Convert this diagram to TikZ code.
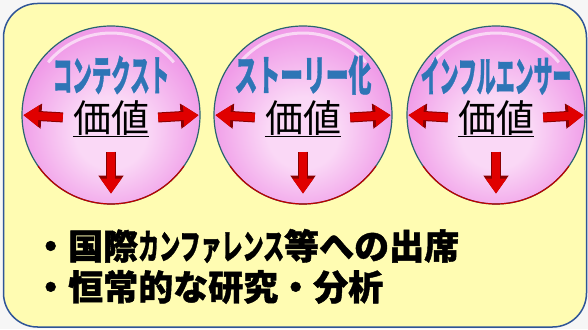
\documentclass[tikz,border=0pt]{standalone}
\usepackage{fontspec}
\usepackage{tikz}
\usetikzlibrary{positioning,arrows.meta}
\newfontfamily\jp{Noto Sans CJK JP}[BoldFeatures={FakeBold=1.2}]
\definecolor{boxyellow}{HTML}{FFFCB2}
\definecolor{boxblue}{HTML}{2F5597}
\definecolor{titleblue}{HTML}{2E75B6}
\definecolor{ballcenter}{HTML}{FAD8F6}
\definecolor{ballmid}{HTML}{F09CE8}
\definecolor{ballrim}{HTML}{C472CC}
\definecolor{ballline}{HTML}{2A6470}
\definecolor{arrowred}{HTML}{E00000}
\definecolor{arrowdark}{HTML}{8A0000}
\pgfdeclareradialshading{pinkball}{\pgfpoint{0bp}{-6bp}}{%
  color(0bp)=(ballcenter); color(10bp)=(ballcenter); color(26bp)=(ballmid);
  color(40bp)=(ballmid); color(48bp)=(ballrim); color(60bp)=(ballrim)}

\begin{document}
\begin{tikzpicture}[x=1pt,y=1pt,
    ball/.style={circle, minimum size=178pt, inner sep=0pt, shading=pinkball, draw=ballline, line width=1.2pt},
    ballname/.style={font=\jp\bfseries\fontsize{30}{30}\selectfont, color=titleblue, inner sep=0pt},
    worth/.style={font=\jp\fontsize{38}{38}\selectfont, inner sep=0pt},
    redarrow/.style={color=arrowred, line width=8pt, -{Triangle[width=20pt,length=15pt]},
      preaction={draw=arrowdark, line width=10pt, -{Triangle[width=24pt,length=18pt]}}},
    bullet/.style={font=\jp\bfseries\fontsize{35}{35}\selectfont, anchor=west, inner sep=0pt}]
    \useasboundingbox (0,0) rectangle (588,329);
    \fill[gray!7] (0,0) rectangle (588,329);
    \draw[boxblue, line width=1.5pt, fill=boxyellow, rounded corners=34pt] (3.5,2) rectangle (586.5,325.5);

    % balls
    \node[ball] (c1) at (111,214) {};
    \node[ball] (c2) at (303,214) {};
    \node[ball] (c3) at (496,214) {};
    \draw[white, opacity=0.6, line width=3pt] (c1.center) ++(40:82) arc (40:140:82);
    \draw[white, opacity=0.6, line width=3pt] (c2.center) ++(40:82) arc (40:140:82);
    \draw[white, opacity=0.6, line width=3pt] (c3.center) ++(40:82) arc (40:140:82);
    \draw[red!75!black, line width=1.2pt] (c1.center) ++(215:89) arc (215:325:89);
    \draw[red!75!black, line width=1.2pt] (c2.center) ++(215:89) arc (215:325:89);
    \draw[red!75!black, line width=1.2pt] (c3.center) ++(215:89) arc (215:325:89);

    % titles and values
    \node[ballname] (t1) at ([yshift=40pt]c1.center) {\scalebox{0.65}[1.4]{コンテクスト}};
    \node[ballname] (t2) at ([yshift=40pt]c2.center) {\scalebox{0.76}[1.4]{ストーリー化}};
    \node[ballname] (t3) at ([yshift=39pt]c3.center) {\scalebox{0.63}[1.4]{インフルエンサー}};
    \node[worth] (v1) at ([yshift=-3pt]c1.center) {価値};
    \node[worth] (v2) at ([yshift=-3pt]c2.center) {価値};
    \node[worth] (v3) at ([yshift=-3pt]c3.center) {価値};
    \draw[line width=1.5pt] ([yshift=-1pt]v1.south west) -- ([yshift=-1pt]v1.south east);
    \draw[line width=1.5pt] ([yshift=-1pt]v2.south west) -- ([yshift=-1pt]v2.south east);
    \draw[line width=1.5pt] ([yshift=-1pt]v3.south west) -- ([yshift=-1pt]v3.south east);

    % arrows
    \draw[redarrow, shorten <=10pt, shorten >=2pt] (v1.west) -- (c1.west);
    \draw[redarrow, shorten <=9pt, shorten >=2pt] (v1.east) -- (c1.east);
    \draw[redarrow, shorten <=16pt, shorten >=11pt] (v1.south) -- (c1.south);
    \draw[redarrow, shorten <=10pt, shorten >=2pt] (v2.west) -- (c2.west);
    \draw[redarrow, shorten <=9pt, shorten >=2pt] (v2.east) -- (c2.east);
    \draw[redarrow, shorten <=16pt, shorten >=11pt] (v2.south) -- (c2.south);
    \draw[redarrow, shorten <=10pt, shorten >=2pt] (v3.west) -- (c3.west);
    \draw[redarrow, shorten <=9pt, shorten >=2pt] (v3.east) -- (c3.east);
    \draw[redarrow, shorten <=16pt, shorten >=11pt] (v3.south) -- (c3.south);

    % bullet lines
    \node[bullet] (b1) at (33,83) {・国際\scalebox{0.6}[1]{カンファレンス}等への出席};
    \node[bullet] (b2) at ([yshift=-41pt]b1.west) {・恒常的な研究・分析};
\end{tikzpicture}
\end{document}
